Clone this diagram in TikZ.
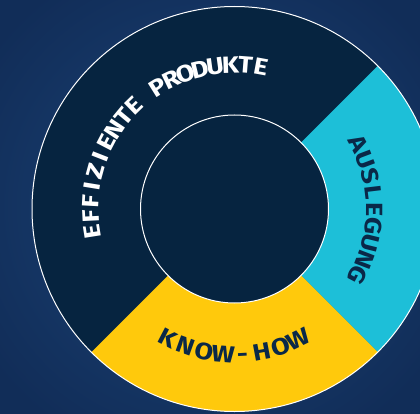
\documentclass[tikz,border=0pt]{standalone}
\usepackage{fontspec}
\newfontfamily\lab{Fira Sans}
\newcommand\labfont{\lab\bfseries\fontsize{23.5pt}{23.5pt}\selectfont}
\newcommand\hsc{1.15}
\definecolor{navyseg}{HTML}{062440}
\definecolor{cyanseg}{HTML}{1DBFD8}
\definecolor{yellowseg}{HTML}{FFC90C}
\definecolor{txtdark}{HTML}{0A2848}
\definecolor{bgin}{HTML}{1B4478}
\definecolor{bgout}{HTML}{112D58}
\newdimen\accS
\newdimen\wfirst
\newdimen\wlast
\newdimen\lw
\newcount\nch
% #1 name, #2 radius (baseline), #3 first-centre angle, #4 last-centre angle, #5 rotation offset, #6 colour, #7 letters
\newcommand\arcword[7]{%
  \global\accS=0pt \global\nch=0
  \foreach \ch in {#7}{%
    \settowidth{\lw}{\labfont\ch}%
    \lw=\hsc\lw
    \ifnum\nch=0 \global\wfirst=\lw\fi
    \global\wlast=\lw
    \global\advance\accS by \lw
    \global\advance\nch by 1
  }%
  \pgfmathsetmacro\Lcc{abs(#4-#3)*pi/180*#2}%
  \pgfmathsetmacro\trkv{(\Lcc-\accS+0.5*\wfirst+0.5*\wlast)/(\nch-1)}%
  \global\accS=0pt
  \foreach \ch [count=\i] in {#7}{%
    \settowidth{\lw}{\labfont\ch}%
    \lw=\hsc\lw
    \ifnum\i=1 \global\accS=-0.5\lw \fi
    \pgfmathsetmacro\frac{(\accS+0.5*\lw)/\Lcc}%
    \pgfmathsetmacro\ang{#3+(#4-#3)*\frac}%
    \node[letter, text=#6, rotate=\ang+#5, xscale=\hsc] (#1-\i) at ([shift={(\ang:#2)}]C) {\ch};
    \global\advance\accS by \lw
    \global\advance\accS by \trkv pt
  }%
}
\tikzset{
  ring/.style={draw=white, line width=1pt},
  letter/.style={inner sep=0pt, anchor=base, font=\labfont}
}
\begin{document}
\begin{tikzpicture}[x=1pt,y=1pt]
\useasboundingbox (0,0) rectangle (420,413);
\clip (0,0) rectangle (420,413);
\shade[inner color=bgin, outer color=bgout] (-60,-60) rectangle (480,473);
\coordinate (C) at (234.5,204);
\fill[navyseg] (C) circle[radius=202.5];
\fill[cyanseg] (C) -- ++(-45:202.5) arc[start angle=-45,end angle=45,radius=202.5] -- cycle;
\fill[yellowseg] (C) -- ++(225:202.5) arc[start angle=225,end angle=315,radius=202.5] -- cycle;
\fill[navyseg] (C) circle[radius=94];
\draw[ring] (C) circle[radius=202.5];
\draw[ring] (C) circle[radius=94];
\arcword{eff}{136}{189}{79.5}{-90}{white}{E,F,F,I,Z,I,E,N,T,E,\,,P,R,O,D,U,K,T,E}
\arcword{aus}{131.5}{27.8}{-28.1}{-90}{txtdark}{A,U,S,L,E,G,U,N,G}
\arcword{know}{153.5}{242.6}{296}{90}{txtdark}{K,N,O,W,-,H,O,W}
\end{tikzpicture}
\end{document}
